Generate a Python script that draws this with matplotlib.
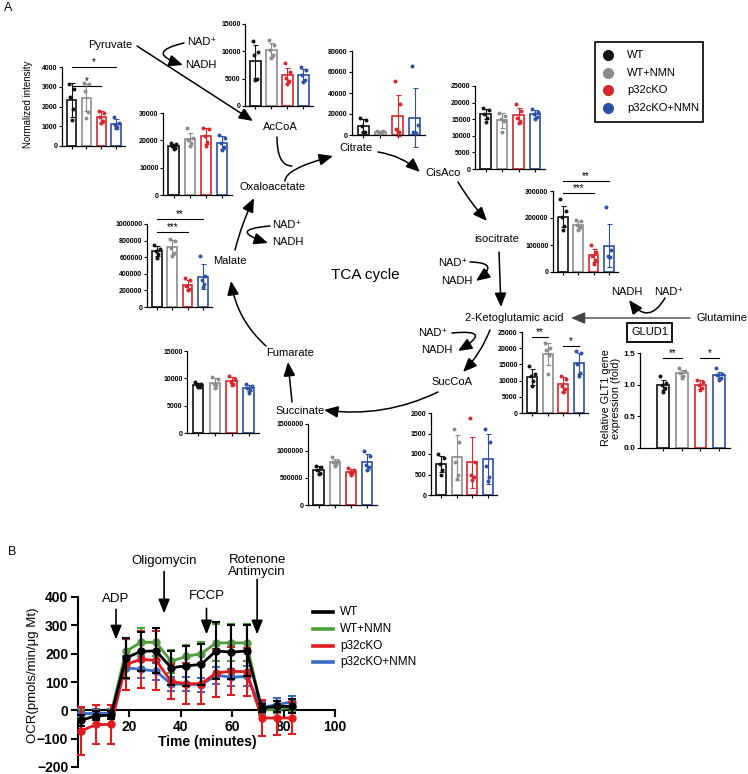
import matplotlib
matplotlib.use('Agg')
import matplotlib.pyplot as plt
from matplotlib.patches import FancyArrowPatch, Rectangle
from matplotlib.lines import Line2D
import numpy as np

plt.rcParams['font.family'] = ['Liberation Sans', 'DejaVu Sans']

W, H = 748, 774
fig = plt.figure(figsize=(W / 100, H / 100), dpi=100)

# ---------------- DATA ----------------
groups = ['WT', 'WT+NMN', 'p32cKO', 'p32cKO+NMN']
a_colors = ['#111111', '#8c8c8c', '#d9252b', '#2c50a6']

pyruvate_mean = [2340, 2450, 1450, 1100]
pyruvate_sd = [850, 700, 300, 250]
pyruvate_pts = [[3150, 2900, 2500, 1850, 1300], [3200, 3150, 2800, 1700, 1400],
                [1750, 1650, 1450, 1250, 1150], [1450, 1150, 1050, 950, 900]]

accoa_mean = [8160, 10300, 5600, 5700]
accoa_sd = [3000, 1300, 1400, 1100]
accoa_pts = [[11800, 9800, 9400, 5000, 4800], [12000, 11200, 10200, 9300, 8800],
             [7900, 6200, 5200, 4600, 4100], [7200, 6500, 5600, 4800, 4400]]

citrate_mean = [9000, 3000, 18500, 16500]
citrate_sd = [6000, 800, 19500, 28000]
citrate_pts = [[16000, 14500, 9000, 3000, 2500], [4000, 3500, 3000, 2500, 2000],
               [51000, 30000, 6000, 3000, 2500], [66000, 10000, 3000, 2000, 1500]]

cisaco_mean = [16500, 14700, 16200, 16500]
cisaco_sd = [1500, 2200, 2200, 1200]
cisaco_pts = [[18500, 17800, 16500, 15500, 14200], [17000, 16000, 15000, 14500, 11000],
              [19500, 17500, 15500, 14500, 14000], [18000, 17200, 16500, 15800, 15000]]

isocitrate_mean = [205000, 175000, 62000, 98000]
isocitrate_sd = [38000, 15000, 25000, 80000]
isocitrate_pts = [[270000, 225000, 205000, 170000, 155000], [192000, 188000, 175000, 165000, 155000],
                  [100000, 75000, 60000, 45000, 30000], [240000, 80000, 60000, 55000, 55000]]

oxalo_mean = [18000, 20500, 21500, 19200]
oxalo_sd = [800, 2300, 3000, 2500]
oxalo_pts = [[19200, 18500, 18000, 17300, 17000], [24500, 21000, 20000, 19000, 18000],
             [24500, 24000, 21500, 19500, 18000], [22000, 21000, 19000, 17500, 16500]]

malate_mean = [670000, 720000, 270000, 365000]
malate_sd = [60000, 90000, 60000, 150000]
malate_pts = [[750000, 700000, 670000, 640000, 590000], [820000, 800000, 710000, 650000, 620000],
              [350000, 330000, 250000, 220000, 200000], [610000, 370000, 320000, 280000, 245000]]

aKG_mean = [11200, 18200, 8800, 15300]
aKG_sd = [2500, 3300, 2200, 3300]
aKG_pts = [[14500, 12000, 11500, 9800, 8200], [21500, 20000, 19500, 18000, 12000],
           [11300, 10500, 8200, 7500, 6500], [19000, 18500, 15000, 12500, 11500]]

glt1_mean = [1.00, 1.18, 1.00, 1.15]
glt1_sd = [0.08, 0.05, 0.07, 0.05]
glt1_pts = [[1.13, 1.03, 1.00, 0.95, 0.89], [1.26, 1.22, 1.18, 1.14, 1.10],
            [1.08, 1.05, 1.00, 0.95, 0.92], [1.26, 1.17, 1.15, 1.10, 1.07]]

fumarate_mean = [8800, 9200, 9500, 8200]
fumarate_sd = [400, 900, 700, 600]
fumarate_pts = [[9300, 9000, 8800, 8500, 8400], [10200, 9800, 9000, 8700, 8300],
                [10500, 9800, 9400, 9000, 8800], [9000, 8600, 8200, 7800, 7400]]

succinate_mean = [650000, 800000, 620000, 800000]
succinate_sd = [70000, 60000, 50000, 150000]
succinate_pts = [[720000, 700000, 650000, 600000, 580000], [880000, 820000, 800000, 770000, 730000],
                 [680000, 650000, 620000, 590000, 560000], [1000000, 900000, 750000, 700000, 650000]]

succoa_mean = [750, 920, 800, 880]
succoa_sd = [200, 550, 620, 600]
succoa_pts = [[1000, 900, 750, 600, 500], [1600, 1300, 800, 500, 400],
              [1880, 800, 500, 450, 370], [1620, 1300, 700, 450, 330]]

# Panel B: OCR time course
time_min = [1.3, 7.1, 12.9, 18.6, 24.5, 30.4, 36.2, 42.0, 47.9, 53.8, 59.7, 65.6, 71.5, 77.4, 83.3]
ocr_wt = [-35, -19, -17, 185, 208, 210, 150, 157, 162, 210, 205, 210, 8, 14, 14]
ocr_wt_sd = [20, 15, 15, 70, 70, 80, 60, 70, 72, 100, 95, 90, 15, 20, 25]
ocr_wtnmn = [-10, -15, -10, 208, 240, 240, 173, 190, 200, 238, 238, 238, 0, 5, 10]
ocr_wtnmn_sd = [15, 15, 15, 45, 50, 50, 40, 40, 40, 65, 65, 65, 15, 15, 15]
ocr_ko = [-72, -50, -50, 162, 180, 176, 102, 94, 94, 132, 138, 136, -27, -27, -27]
ocr_ko_sd = [85, 70, 70, 90, 100, 105, 63, 73, 73, 85, 85, 85, 65, 60, 55]
ocr_konmn = [-13, -10, -10, 150, 145, 138, 93, 92, 90, 124, 117, 120, 10, 20, 30]
ocr_konmn_sd = [20, 15, 15, 40, 30, 30, 25, 25, 25, 30, 30, 35, 20, 25, 20]
b_colors = ['#000000', '#4c9f38', '#e31a1c', '#3a6cc4']
injections = ['ADP', 'Oligomycin', 'FCCP', 'Rotenone\nAntimycin']
injection_times = [14.8, 33.5, 50.0, 69.7]

# ---------------- helpers ----------------
def P(x, y):
    return (x / W, 1 - y / H)

def T(x, y, s, **kw):
    kw.setdefault('fontsize', 8)
    kw.setdefault('ha', 'center')
    kw.setdefault('va', 'center')
    return fig.text(x / W, 1 - y / H, s, **kw)

def arrow(p0, p1, style='arc3,rad=0', head=True, lw=1.1, color='k'):
    st = '-|>,head_length=0.85,head_width=0.36' if head else '-'
    a = FancyArrowPatch(P(*p0), P(*p1), transform=fig.transFigure, connectionstyle=style,
                        arrowstyle=st, mutation_scale=10, lw=lw, color=color,
                        shrinkA=0, shrinkB=0, joinstyle='miter')
    fig.add_artist(a)

jitter = [-0.17, 0.17, -0.08, 0.09, 0.0]

def bar_panel(x0, x1, yt, yb, means, sds, pts, yticks, fmt=lambda v: '%d' % v,
              xlim=(0.35, 4.6), width=0.64, tick_fs=5.0):
    ax = fig.add_axes([x0 / W, 1 - yb / H, (x1 - x0) / W, (yb - yt) / H])
    ax.patch.set_alpha(0)
    xs = np.arange(1, 5)
    ax.bar(xs, means, width=width, color='white', edgecolor=a_colors, linewidth=1.2, zorder=2)
    for i in range(4):
        ax.errorbar(xs[i], means[i], yerr=sds[i], color=a_colors[i], capsize=1.8,
                    elinewidth=0.8, capthick=0.8, zorder=3, clip_on=False)
        ax.scatter(xs[i] + np.array(jitter), pts[i], s=8, color=a_colors[i], zorder=4,
                   clip_on=False, linewidths=0)
    ax.set_xlim(*xlim)
    ax.set_ylim(0, yticks[-1])
    ax.set_yticks(yticks)
    ax.set_yticklabels([fmt(v) for v in yticks], fontsize=tick_fs, fontweight='bold')
    ax.set_xticks(xs)
    ax.set_xticklabels([])
    for s in ['top', 'right']:
        ax.spines[s].set_visible(False)
    for s in ['left', 'bottom']:
        ax.spines[s].set_linewidth(0.9)
    ax.tick_params(length=2.2, width=0.8, pad=1)
    return ax

def sig(ax, i, j, level, star, fs=7):
    ax.plot([i, j], [level, level], color='k', lw=0.8, clip_on=False)
    ax.text((i + j) / 2, level, star, ha='center', va='bottom', fontsize=fs, clip_on=False)

# ---------------- PANEL A: bar charts ----------------
ax = bar_panel(62, 125, 67, 146, pyruvate_mean, pyruvate_sd, pyruvate_pts, [0, 1000, 2000, 3000, 4000])
sig(ax, 1, 4, 4000, '*')
sig(ax, 1, 3, 3050, '*')
T(28, 104, 'Normalized intensity', rotation=90, fontsize=7)

bar_panel(245, 313, 24, 106, accoa_mean, accoa_sd, accoa_pts, [0, 5000, 10000, 15000])
bar_panel(352, 425, 51, 135, citrate_mean, citrate_sd, citrate_pts, [0, 20000, 40000, 60000, 80000])
bar_panel(475, 545, 86, 169, cisaco_mean, cisaco_sd, cisaco_pts, [0, 5000, 10000, 15000, 20000, 25000])
ax = bar_panel(553, 618, 191, 272, isocitrate_mean, isocitrate_sd, isocitrate_pts, [0, 100000, 200000, 300000])
sig(ax, 1, 4, 337000, '**')
sig(ax, 1, 3, 293000, '***')
bar_panel(163, 232, 113, 195, oxalo_mean, oxalo_sd, oxalo_pts, [0, 10000, 20000, 30000])
ax = bar_panel(147, 212, 224, 307, malate_mean, malate_sd, malate_pts,
               [0, 200000, 400000, 600000, 800000, 1000000])
sig(ax, 1, 4, 1060000, '**')
sig(ax, 1, 3, 900000, '***')
ax = bar_panel(522, 588, 332, 413, aKG_mean, aKG_sd, aKG_pts, [0, 5000, 10000, 15000, 20000, 25000])
sig(ax, 1, 2, 23500, '**')
sig(ax, 3, 4, 20700, '*')
ax = bar_panel(640, 730, 353, 448, glt1_mean, glt1_sd, glt1_pts, [0.0, 0.5, 1.0, 1.5],
               fmt=lambda v: '%.1f' % v, xlim=(-0.25, 4.6), width=0.62, tick_fs=6.0)
sig(ax, 1, 2, 1.42, '**')
sig(ax, 3, 4, 1.42, '*')
T(611, 398, 'Relative GLT1 gene\nexpression (fold)', rotation=90, fontsize=7.8, linespacing=1.0)
bar_panel(187, 259, 351, 433, fumarate_mean, fumarate_sd, fumarate_pts, [0, 5000, 10000, 15000])
bar_panel(308, 377, 424, 505, succinate_mean, succinate_sd, succinate_pts, [0, 500000, 1000000, 1500000])
bar_panel(431, 497, 413, 495, succoa_mean, succoa_sd, succoa_pts, [0, 500, 1000, 1500, 2000])

# ---------------- PANEL A: pathway diagram ----------------
T(8, 8, 'A', fontsize=9)
T(110, 45, 'Pyruvate')
T(187, 42, 'NAD⁺', ha='left')
T(185, 65, 'NADH', ha='left')
arrow((184, 43), (183, 65), 'arc3,rad=1.8')
arrow((137, 46), (253, 121))
T(280, 127, 'AcCoA')
arrow((277, 137), (292, 166), 'angle3,angleA=-90,angleB=0', head=False)
arrow((285, 181), (333, 156), 'angle3,angleA=90,angleB=15')
T(356, 148, 'Citrate')
arrow((378, 152), (420, 172), 'arc3,rad=-0.15')
T(443, 173, 'CisAco')
arrow((458, 182), (487, 221), 'arc3,rad=0.05')
T(497, 239, 'isocitrate')
T(467, 263, 'NAD⁺', ha='right')
T(473, 281, 'NADH', ha='right')
arrow((470, 262), (476, 281), 'arc3,rad=-1.5')
arrow((499, 252), (501, 307))
T(514, 318, '2-Ketoglutamic acid')
arrow((690, 318), (571, 318), color='#444444', lw=1.0)
T(722, 318, 'Glutamine')
T(627, 292, 'NADH')
T(669, 292, 'NAD⁺')
arrow((665, 298), (629, 300), 'arc3,rad=-0.75')
fig.add_artist(Rectangle(P(627, 342), 45 / W, 19 / H, transform=fig.transFigure,
                         fill=False, lw=1.3, ec='k'))
T(650, 332, 'GLUD1')
T(447, 333, 'NAD⁺', ha='right')
T(453, 350, 'NADH', ha='right')
arrow((452, 333), (458, 351), 'arc3,rad=-2.2')
arrow((490, 330), (463, 372), 'arc3,rad=-0.1')
T(452, 382, 'SucCoA')
arrow((438, 392), (324, 410), 'arc3,rad=-0.15')
T(300, 411, 'Succinate')
arrow((292, 402), (288, 362))
T(290, 353, 'Fumarate')
arrow((266, 346), (231, 281), 'arc3,rad=-0.18')
T(230, 261, 'Malate')
T(272, 225, 'NAD⁺', ha='left')
T(272, 242, 'NADH', ha='left')
arrow((270, 226), (268, 243), 'arc3,rad=2.5')
arrow((235, 250), (254, 198), 'arc3,rad=-0.05')
T(273, 187, 'Oxaloacetate')
T(365, 275, 'TCA cycle', fontsize=11)

# legend A
fig.add_artist(Rectangle(P(595, 122), 108 / W, 80 / H, transform=fig.transFigure,
                         fill=False, lw=1.2, ec='k'))
for i, (g, c) in enumerate(zip(groups, a_colors)):
    y = 55 + i * 17.7
    fig.add_artist(Line2D([608 / W], [1 - y / H], marker='o', ms=7, color=c, lw=0,
                          transform=fig.transFigure))
    T(627, y, g, ha='left', fontsize=8)

# ---------------- PANEL B ----------------
T(12, 552, 'B', fontsize=9)
axB = fig.add_axes([78 / W, 1 - 767 / H, 257 / W, 170 / H])
axB.patch.set_alpha(0)
series = [(ocr_wtnmn, ocr_wtnmn_sd, b_colors[1]), (ocr_konmn, ocr_konmn_sd, b_colors[3]),
          (ocr_ko, ocr_ko_sd, b_colors[2]), (ocr_wt, ocr_wt_sd, b_colors[0])]
for k, (y, e, c) in enumerate(series):
    axB.errorbar(time_min, y, yerr=e, color=c, lw=2, marker='o', ms=5, capsize=3,
                 elinewidth=1.5, capthick=1.5, zorder=3 + k, clip_on=False)
axB.set_xlim(0, 100)
axB.set_ylim(-200, 400)
axB.set_xticks([20, 40, 60, 80, 100])
axB.set_yticks([-200, -100, 0, 100, 200, 300, 400])
for s in ['top', 'right']:
    axB.spines[s].set_visible(False)
axB.spines['bottom'].set_position(('data', 0))
for s in ['left', 'bottom']:
    axB.spines[s].set_linewidth(1.5)
axB.tick_params(length=5, width=1.5, labelsize=10, pad=2)
for lab in axB.get_xticklabels() + axB.get_yticklabels():
    lab.set_fontweight('bold')
T(207, 742, 'Time (minutes)', fontsize=10, fontweight='bold')
T(33, 675, 'OCR(pmols/min/μg Mt)', rotation=90, fontsize=9.5)

arrow_tops = [356, 490, 360, 462]
arrow_bottoms = [250, 342, 268, 268]
label_y = [392, 526, 402, 510]
for name, t, yt, yb, ly in zip(injections, injection_times, arrow_tops, arrow_bottoms, label_y):
    axB.annotate('', xy=(t, yb), xytext=(t, yt), xycoords='data', textcoords='data',
                 arrowprops=dict(arrowstyle='-|>,head_length=0.85,head_width=0.34', lw=1.2,
                                 color='k', shrinkA=0, shrinkB=0, mutation_scale=10),
                 annotation_clip=False)
    axB.text(t, ly, name, ha='center', va='center', fontsize=9.5, clip_on=False,
             linespacing=1.0)

for i, (g, c) in enumerate(zip(groups, [b_colors[0], b_colors[1], b_colors[2], b_colors[3]])):
    y = 612 + i * 16.8
    fig.add_artist(Line2D([313 / W, 333 / W], [1 - y / H, 1 - y / H], color=c, lw=2.6,
                          transform=fig.transFigure))
    T(340, y, g, ha='left', fontsize=8.5)

fig.savefig('out.png', dpi=100)
